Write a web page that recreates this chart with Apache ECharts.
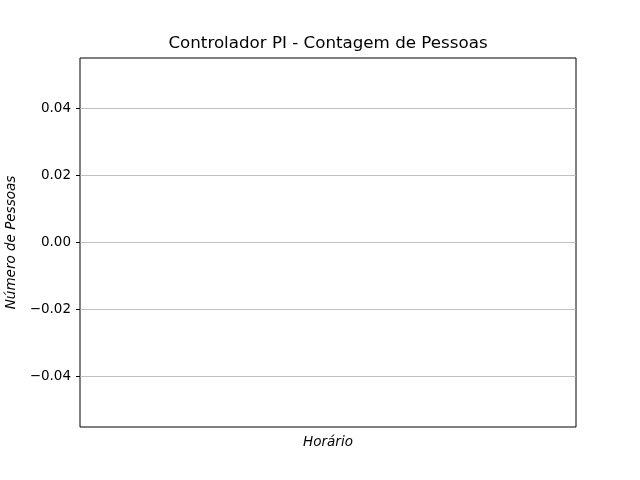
<!DOCTYPE html>
<html>
<head>
<meta charset="utf-8">
<script src="https://cdn.jsdelivr.net/npm/echarts@6/dist/echarts.min.js"></script>
<style>html,body{margin:0;padding:0;background:#fff}#c{width:640px;height:480px}</style>
</head>
<body>
<div id="c"></div>
<script>
var horarios = [];
var pessoas = [];
var yTicks = [-0.04, -0.02, 0.00, 0.02, 0.04];
var yMin = -0.055, yMax = 0.055;

function fmt(v) {
  var s = Math.abs(v).toFixed(2);
  return (v < -1e-9 ? '\u2212' : '') + s;
}

var chart = echarts.init(document.getElementById('c'), null, {renderer: 'canvas'});
chart.setOption({
  animation: false,
  backgroundColor: '#ffffff',
  textStyle: {fontFamily: 'DejaVu Sans'},
  title: {
    text: 'Controlador PI - Contagem de Pessoas',
    left: 328, top: 35, textAlign: 'center', padding: 0,
    textStyle: {fontFamily: 'DejaVu Sans', fontSize: 16.7, fontWeight: 'normal', color: '#000'}
  },
  grid: {left: 80, right: 64, top: 58, bottom: 53, containLabel: false, outerBoundsMode: 'none',
    show: true, borderColor: '#000', borderWidth: 1, backgroundColor: 'transparent'},
  xAxis: {
    type: 'category', data: horarios,
    name: 'Horário', nameLocation: 'middle', nameGap: 8,
    nameTextStyle: {fontFamily: 'DejaVu Sans', fontSize: 13.5, fontStyle: 'italic', color: '#000', verticalAlign: 'top'},
    axisLine: {show: false}, axisTick: {show: false}, axisLabel: {show: false}, splitLine: {show: false}
  },
  yAxis: {
    type: 'value', min: yMin, max: yMax,
    name: 'Número de Pessoas', nameLocation: 'middle', nameGap: 57, nameRotate: 90,
    nameTextStyle: {fontFamily: 'DejaVu Sans', fontSize: 13.5, fontStyle: 'italic', color: '#000'},
    axisLine: {show: false},
    axisTick: {show: true, customValues: yTicks, length: 4, inside: false, lineStyle: {color: '#000', width: 1}},
    axisLabel: {show: true, customValues: yTicks, formatter: fmt, fontFamily: 'DejaVu Sans', fontSize: 13.5, color: '#000', margin: 9},
    splitLine: {show: false}
  },
  series: [{
    type: 'line', data: pessoas, symbol: 'none',
    lineStyle: {color: '#1f77b4'},
    markLine: {
      silent: true, symbol: 'none', label: {show: false},
      lineStyle: {color: '#b0b0b0', width: 0.8, type: 'solid'},
      data: yTicks.map(function (t) { return {yAxis: t}; })
    }
  }]
});
</script>
</body>
</html>
